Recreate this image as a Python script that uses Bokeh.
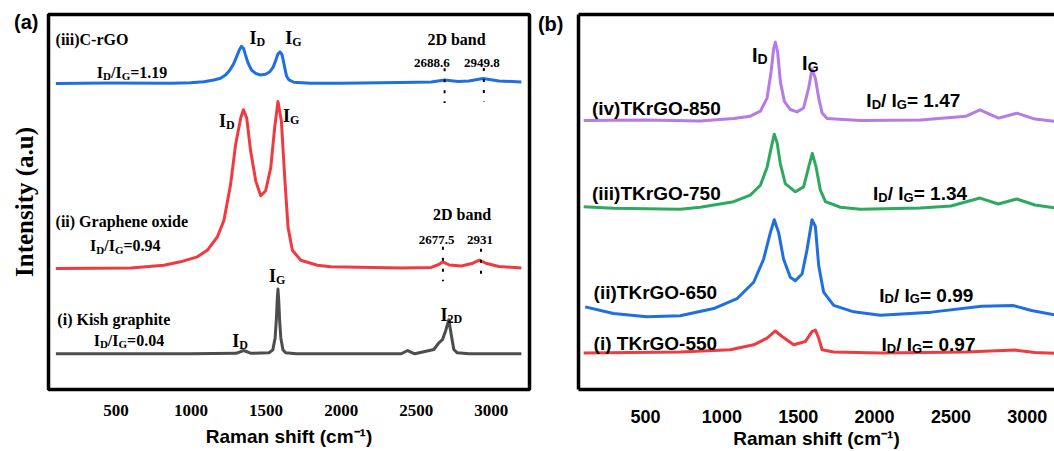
from bokeh.plotting import figure
from bokeh.layouts import row
from bokeh.models import ColumnDataSource, Range1d, FixedTicker, LinearAxis
from bokeh.core.properties import value, field
from bokeh.embed import file_html
from bokeh.resources import INLINE

# ---------------- data ----------------
# Panel (a): Raman shift (cm-1) and stacked intensity (a.u.)
crgo_x = [100, 450, 864, 997, 1085, 1152, 1197, 1230, 1259, 1285, 1308, 1323, 1336, 1350, 1363, 1381,
          1403, 1430, 1463, 1496, 1525, 1548, 1565, 1578, 1592, 1605, 1614, 1625, 1636, 1652, 1685, 1796,
          2000, 2400, 2600, 2688, 2780, 2850, 2945, 3050, 3200]
crgo_y = [308.5, 309, 308.7, 309.3, 310.3, 312, 313.7, 317, 322, 328.7, 337, 342.7, 346, 343.7, 337, 328.7,
          322, 318.7, 317, 317.7, 320.3, 325.3, 332, 338, 340.3, 338, 332, 323.7, 316, 312, 309.7, 308.7,
          308.7, 309.5, 310, 312, 310.5, 311, 313.5, 311, 310]

go_x = [100, 600, 819, 930, 1042, 1108, 1175, 1219, 1264, 1297, 1331, 1349, 1371, 1397, 1431, 1464, 1497,
        1531, 1557, 1579, 1602, 1624, 1646, 1675, 1731, 1842, 1931, 2400, 2600, 2650, 2677, 2720, 2800,
        2870, 2919, 2970, 3050, 3200]
go_y = [122, 122.5, 125.3, 128.7, 133.7, 140.3, 153.7, 170.3, 207, 247, 273.7, 282, 273.7, 240.3, 210.3,
        195.3, 200.3, 223.7, 263.7, 290.3, 270.3, 213.7, 163.7, 140.3, 130.3, 125.3, 123.7, 122.5, 123,
        126, 128.7, 125.5, 124.5, 127, 130.3, 127, 124, 122.5]

kish_x = [100, 1000, 1300, 1350, 1400, 1520, 1545, 1560, 1568, 1574, 1579, 1584, 1590, 1598, 1612, 1630,
          1700, 2400, 2442, 2490, 2617, 2650, 2675, 2695, 2717, 2733, 2750, 2773, 2850, 3200]
kish_y = [36, 36, 36.5, 39.3, 36.5, 37, 40, 52, 70, 90, 101.3, 90, 70, 52, 40, 37,
          36, 36, 39.3, 36, 40.3, 47, 50.3, 59, 70.3, 55.3, 40.3, 37, 36, 36]

# Panel (b)
tk850_x = [95, 500, 858, 1077, 1186, 1252, 1296, 1322, 1339, 1350, 1365, 1383, 1409, 1448, 1492, 1535,
           1568, 1590, 1612, 1634, 1656, 1689, 1907, 2300, 2600, 2690, 2811, 2931, 3050, 3178]
tk850_y = [272.7, 273, 272, 274.7, 277, 282, 295.3, 322, 345.3, 352, 342, 312, 292, 283.7, 281.3, 285.3,
           305.3, 324.7, 315.3, 295.3, 280.3, 274.7, 272.7, 273, 277, 283.4, 275, 280, 274, 271.7]

tk750_x = [95, 290, 727, 858, 1077, 1186, 1252, 1296, 1328, 1343, 1361, 1383, 1415, 1481, 1535, 1568,
           1592, 1617, 1645, 1678, 1776, 1907, 2300, 2500, 2690, 2810, 2930, 3050, 3178]
tk750_y = [185.3, 183.7, 182.7, 184.7, 190.3, 197, 207, 225.3, 248.7, 258.7, 250.3, 228.7, 208.7, 200.3,
           205.3, 225.3, 239.3, 225.3, 202, 190.3, 184.7, 182.7, 184, 186, 194, 188, 193, 187, 184]

tk650_x = [105, 290, 509, 727, 946, 1099, 1208, 1273, 1317, 1343, 1372, 1404, 1448, 1481, 1525, 1558,
           1590, 1612, 1634, 1666, 1732, 1863, 2038, 2372, 2700, 2910, 3027, 3178]
tk650_y = [83.7, 77, 73.7, 74.7, 82, 92, 108.7, 132, 158.7, 172, 158.7, 132, 113.7, 110.3, 117, 142,
           172, 165.3, 125.3, 98.7, 85.3, 78.7, 75.3, 78.4, 84.4, 85, 80, 75.7]

tk550_x = [95, 727, 1055, 1208, 1296, 1350, 1394, 1470, 1547, 1590, 1612, 1634, 1656, 1732, 2038, 2600,
           2920, 3050, 3178]
tk550_y = [37, 38, 40.3, 45.3, 52, 59.3, 53.7, 45.3, 48.7, 58.7, 60.3, 52, 40.3, 38, 37, 38,
           40, 37.5, 36.6]

tick_values = [500, 1000, 1500, 2000, 2500, 3000]
x_title = "Raman shift (cm\u207b\u00b9)"
y_title = "Intensity (a.u)"
panel_tags = ["(a)", "(b)"]
tag_level = 370.3

# 2D band markers (panel a)
band_x = [2688.6, 2949.8, 2677.5, 2931]
band_y0 = [323.7, 324, 144, 142]
band_y1 = [288.7, 290.3, 109, 115.3]

# ---------------- styling helpers ----------------
TIMES_B = {' ': .25, '(': .333, ')': .333, '-': .333, '.': .25, '/': .278, '=': .570,
           'A': .722, 'C': .722, 'D': .722, 'G': .778, 'I': .389, 'K': .778, 'O': .778,
           'a': .5, 'b': .556, 'd': .556, 'e': .444, 'g': .5, 'h': .556, 'i': .278, 'n': .556,
           'o': .5, 'p': .556, 'r': .444, 's': .389, 't': .333, 'x': .5}
ARIAL_B = {' ': .278, '(': .333, ')': .333, '-': .333, '.': .278, '/': .278, '=': .584,
           'D': .722, 'G': .778, 'I': .278, 'K': .722, 'O': .778, 'T': .611,
           'i': .278, 'r': .389, 'v': .556}


def add_rich(p, items, font, table, digit_w, sub_ratio=0.68, drop=0.24):
    xs, ys, ts, fs, xo = [], [], [], [], []
    for (x, yc, size, parts, align) in items:
        sub = round(size * sub_ratio)
        widths = [sum(table.get(c, digit_w) for c in t) * (sub if s else size) for t, s in parts]
        off = -sum(widths) / 2 if align == 'center' else 0.0
        base = yc - 0.34 * size
        for (t, s), w in zip(parts, widths):
            xs.append(x)
            ys.append(base - (drop * size if s else 0))
            ts.append(t)
            fs.append(f"{sub if s else size}px")
            xo.append(off)
            off += w
    src = ColumnDataSource(dict(x=xs, y=ys, text=ts, fs=fs, xo=xo))
    p.text(x='x', y='y', text='text', source=src, text_font=value(font),
           text_font_size=field('fs'), text_font_style='bold', text_color='black',
           text_align='left', text_baseline='alphabetic', x_offset=field('xo'))


def ratio(v, sp=''):
    return [("I", 0), ("D", 1), ("/" + sp + "I", 0), ("G", 1), ("=" + sp + v, 0)]


def tag_axis(axis, tag, standoff):
    axis.ticker = FixedTicker(ticks=[tag_level])
    axis.major_label_overrides = {tag_level: tag}
    axis.major_label_text_font = "Liberation Sans"
    axis.major_label_text_font_style = "bold"
    axis.major_label_text_font_size = "20px"
    axis.major_label_text_color = "black"
    axis.major_label_standoff = standoff
    axis.major_tick_line_color = None
    axis.minor_tick_line_color = None


# ---------------- panel (a) ----------------
pa = figure(width=532, height=451, x_range=Range1d(51, 3254), y_range=Range1d(0, 378),
            output_backend="svg", toolbar_location=None,
            min_border_left=48, min_border_right=3, min_border_top=14, min_border_bottom=59)
pa.grid.visible = False
pa.outline_line_color = "black"
pa.outline_line_width = 3.5
pa.outline_line_alpha = 1

pa.xaxis.ticker = FixedTicker(ticks=tick_values)
pa.xaxis.major_tick_line_color = None
pa.xaxis.minor_tick_line_color = None
pa.xaxis.axis_line_color = None
pa.xaxis.major_label_text_font = "Liberation Serif"
pa.xaxis.major_label_text_font_style = "bold"
pa.xaxis.major_label_text_font_size = "17px"
pa.xaxis.major_label_text_color = "black"
pa.xaxis.major_label_standoff = 9
pa.xaxis.axis_label = x_title
pa.xaxis.axis_label_text_font = "Liberation Sans"
pa.xaxis.axis_label_text_font_style = "bold"
pa.xaxis.axis_label_text_font_size = "19px"
pa.xaxis.axis_label_text_color = "black"
pa.xaxis.axis_label_standoff = 7

tag_axis(pa.yaxis[0], panel_tags[0], 4)
pa.yaxis.axis_line_color = None
pa.yaxis.axis_label = y_title
pa.yaxis.axis_label_text_font = "Liberation Serif"
pa.yaxis.axis_label_text_font_style = "bold"
pa.yaxis.axis_label_text_font_size = "25px"
pa.yaxis.axis_label_text_color = "black"
pa.yaxis.axis_label_standoff = -27

pa.line(kish_x, kish_y, line_color="#4d4d4d", line_width=3, line_join="round")
pa.line(go_x, go_y, line_color="#ef3b3f", line_width=3, line_join="round")
pa.line(crgo_x, crgo_y, line_color="#1f6fe3", line_width=3, line_join="round")
pa.segment(x0=band_x, y0=band_y0, x1=band_x, y1=band_y1, line_color="black",
           line_width=2, line_dash="3 8")

items_a = [
    (98, 358.7, 16, [("(iii)C-rGO", 0)], 'left'),
    (1390, 360.5, 18, [("I", 0), ("D", 1)], 'left'),
    (1628, 360.5, 18, [("I", 0), ("G", 1)], 'left'),
    (2768, 358.7, 16, [("2D band", 0)], 'center'),
    (2604, 333.7, 13, [("2688.6", 0)], 'center'),
    (2937, 333.7, 13, [("2949.8", 0)], 'center'),
    (373, 325.3, 16, ratio("1.19"), 'left'),
    (1187, 277, 18, [("I", 0), ("D", 1)], 'left'),
    (1613, 282, 18, [("I", 0), ("G", 1)], 'left'),
    (98, 174.7, 16, [("(ii) Graphene oxide", 0)], 'left'),
    (328, 150.3, 16, ratio("0.94"), 'left'),
    (2805, 182, 16, [("2D band", 0)], 'center'),
    (2635, 155.3, 13, [("2677.5", 0)], 'center'),
    (2925, 155.3, 13, [("2931", 0)], 'center'),
    (1520, 120.5, 18, [("I", 0), ("G", 1)], 'left'),
    (110, 76, 16, [("(i)  Kish graphite", 0)], 'left'),
    (352, 55.3, 16, ratio("0.04"), 'left'),
    (1274, 55, 18, [("I", 0), ("D", 1)], 'left'),
    (2661, 81.2, 18, [("I", 0), ("2D", 1)], 'left'),
]
add_rich(pa, items_a, "Liberation Serif", TIMES_B, 0.5)

# ---------------- panel (b) ----------------
pb = figure(width=522, height=451, x_range=Range1d(61, 3178), y_range=Range1d(0, 380),
            output_backend="svg", toolbar_location=None,
            min_border_left=46, min_border_right=0, min_border_top=12, min_border_bottom=59)
pb.grid.visible = False
pb.outline_line_color = None

pb.xaxis.ticker = FixedTicker(ticks=tick_values)
pb.xaxis.major_tick_line_color = None
pb.xaxis.minor_tick_line_color = None
pb.xaxis.axis_line_color = "black"
pb.xaxis.axis_line_width = 3.5
pb.xaxis.major_label_text_font = "Liberation Sans"
pb.xaxis.major_label_text_font_style = "bold"
pb.xaxis.major_label_text_font_size = "18px"
pb.xaxis.major_label_text_color = "black"
pb.xaxis.major_label_standoff = 14
pb.xaxis.axis_label = x_title
pb.xaxis.axis_label_text_font = "Liberation Sans"
pb.xaxis.axis_label_text_font_style = "bold"
pb.xaxis.axis_label_text_font_size = "19px"
pb.xaxis.axis_label_text_color = "black"
pb.xaxis.axis_label_standoff = 2

tag_axis(pb.yaxis[0], panel_tags[1], 9)
pb.yaxis.axis_line_color = "black"
pb.yaxis.axis_line_width = 3.5

top_axis = LinearAxis(ticker=FixedTicker(ticks=[]), axis_line_color="black", axis_line_width=3.5,
                      major_tick_line_color=None, minor_tick_line_color=None,
                      major_label_standoff=0, major_label_text_font_size="0px")
pb.add_layout(top_axis, "above")

pb.line(tk550_x, tk550_y, line_color="#ef3b3f", line_width=3, line_join="round")
pb.line(tk650_x, tk650_y, line_color="#1f6fe3", line_width=3, line_join="round")
pb.line(tk750_x, tk750_y, line_color="#2eaa5e", line_width=3, line_join="round")
pb.line(tk850_x, tk850_y, line_color="#b57be6", line_width=3, line_join="round")

items_b = [
    (1197, 345.5, 20, [("I", 0), ("D", 1)], 'left'),
    (1525, 337.5, 20, [("I", 0), ("G", 1)], 'left'),
    (149, 291.7, 19, [("(iv)TKrGO-850", 0)], 'left'),
    (1946, 299, 19, ratio("1.47", " "), 'left'),
    (149, 205, 19, [("(iii)TKrGO-750", 0)], 'left'),
    (1990, 205.3, 19, ratio("1.34", " "), 'left'),
    (160, 105.1, 19, [("(ii)TKrGO-650", 0)], 'left'),
    (2031, 102, 19, ratio("0.99", " "), 'left'),
    (160, 53.3, 19, [("(i) TKrGO-550", 0)], 'left'),
    (2045, 52, 19, ratio("0.97", " "), 'left'),
]
add_rich(pb, items_b, "Liberation Sans", ARIAL_B, 0.556, drop=0.2)

layout = row(pa, pb)
open("out.html", "w").write(file_html(layout, INLINE))
